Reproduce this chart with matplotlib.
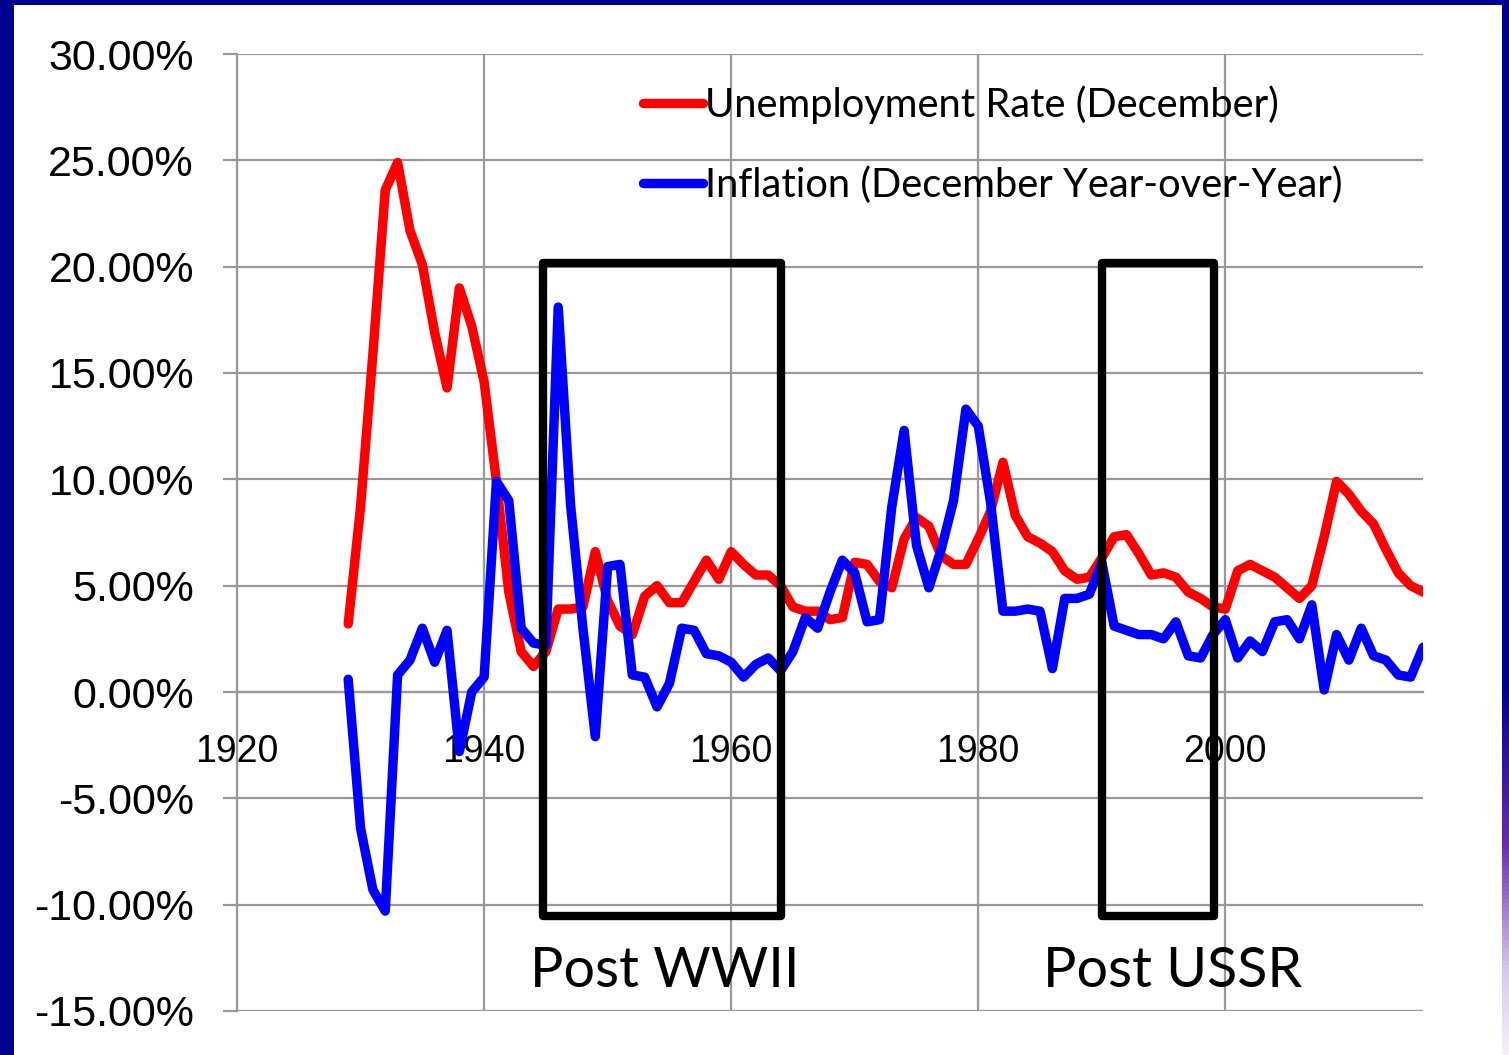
import numpy as np
import matplotlib
matplotlib.use("Agg")
import matplotlib.pyplot as plt
from matplotlib.patches import Rectangle
from matplotlib.colors import LinearSegmentedColormap

# %% data (percent)
years = list(range(1929, 2017))
unemployment = [3.2, 8.7, 15.9, 23.6, 24.9, 21.7, 20.1, 16.9, 14.3, 19.0,
                17.2, 14.6, 9.9, 4.7, 1.9, 1.2, 1.9, 3.9, 3.9, 4.0,
                6.6, 4.3, 3.1, 2.7, 4.5, 5.0, 4.2, 4.2, 5.2, 6.2,
                5.3, 6.6, 6.0, 5.5, 5.5, 5.0, 4.0, 3.8, 3.8, 3.4,
                3.5, 6.1, 6.0, 5.2, 4.9, 7.2, 8.2, 7.8, 6.4, 6.0,
                6.0, 7.2, 8.5, 10.8, 8.3, 7.3, 7.0, 6.6, 5.7, 5.3,
                5.4, 6.3, 7.3, 7.4, 6.5, 5.5, 5.6, 5.4, 4.7, 4.4,
                4.0, 3.9, 5.7, 6.0, 5.7, 5.4, 4.9, 4.4, 5.0, 7.3,
                9.9, 9.3, 8.5, 7.9, 6.7, 5.6, 5.0, 4.7]
inflation = [0.6, -6.4, -9.3, -10.3, 0.8, 1.5, 3.0, 1.4, 2.9, -2.8,
             0.0, 0.7, 9.9, 9.0, 3.0, 2.3, 2.2, 18.1, 8.8, 3.0,
             -2.1, 5.9, 6.0, 0.8, 0.7, -0.7, 0.4, 3.0, 2.9, 1.8,
             1.7, 1.4, 0.7, 1.3, 1.6, 1.0, 1.9, 3.5, 3.0, 4.7,
             6.2, 5.6, 3.3, 3.4, 8.7, 12.3, 6.9, 4.9, 6.7, 9.0,
             13.3, 12.5, 8.9, 3.8, 3.8, 3.9, 3.8, 1.1, 4.4, 4.4,
             4.6, 6.1, 3.1, 2.9, 2.7, 2.7, 2.5, 3.3, 1.7, 1.6,
             2.7, 3.4, 1.6, 2.4, 1.9, 3.3, 3.4, 2.5, 4.1, 0.1,
             2.7, 1.5, 3.0, 1.7, 1.5, 0.8, 0.7, 2.1]

# highlighted periods: (label, start, end, label centre)
periods = [("Post WWII", 1944.8, 1964.05, 1954.6),
           ("Post USSR", 1990.05, 1999.1, 1995.7)]
box_low, box_high = -10.53, 20.17

x_ticks = [1920, 1940, 1960, 1980, 2000]
y_ticks = [-15, -10, -5, 0, 5, 10, 15, 20, 25, 30]

navy = "#000090"
grid_gray = "#999999"

# %% figure
W, H = 1509, 1055
fig = plt.figure(figsize=(W / 100, H / 100), dpi=100, facecolor=navy)

# white slide panel
bg = fig.add_axes([14 / W, 0, (1502 - 14) / W, 1 - 5 / H], zorder=-5)
bg.axis("off")
bg.add_patch(Rectangle((0, 0), 1, 1, transform=bg.transAxes, color="white"))

# right edge gradient strip
strip = fig.add_axes([1502 / W, 0, 7 / W, 1 - 5 / H], zorder=-5)
cmap = LinearSegmentedColormap.from_list(
    "edge", [(0, "#f4f0fa"), (0.08, "#d8c8ee"), (0.2, "#6a2ab0"),
             (0.35, navy), (1, navy)])
strip.imshow(np.linspace(0, 1, 256).reshape(-1, 1), aspect="auto",
             cmap=cmap, origin="lower", extent=[0, 1, 0, 1])
strip.axis("off")

ax = fig.add_axes([237 / W, (1055 - 1011) / H, (1423 - 237) / W, (1011 - 54) / H])
ax.set_facecolor("none")
for side in ["top", "right"]:
    ax.spines[side].set_visible(False)
ax.spines["bottom"].set_position(("data", 0))
for side in ["left", "bottom"]:
    ax.spines[side].set_color(grid_gray)
    ax.spines[side].set_linewidth(1.6)

ax.plot(years, unemployment, color="#ff0000", lw=6.8, solid_capstyle="round",
        solid_joinstyle="round", label="Unemployment Rate (December)", zorder=3)
ax.plot(years, inflation, color="#0000ff", lw=6.8, solid_capstyle="round",
        solid_joinstyle="round", label="Inflation (December Year-over-Year)", zorder=3)

for label, x0, x1, xc in periods:
    ax.add_patch(Rectangle((x0, box_low), x1 - x0, box_high - box_low, fill=False,
                           ec="black", lw=6, joinstyle="round", zorder=4,
                           clip_on=False))
    ax.text(xc, -13.88, label, ha="center", va="baseline",
            fontsize=40, family="Lato", color="black")

ax.set_xlim(1920, 2016)
ax.set_ylim(-15, 30)
ax.set_xticks(x_ticks)
ax.set_yticks(y_ticks)
ax.set_yticklabels([f"{v:.2f}%" for v in y_ticks], family="Liberation Sans", fontsize=31)
ax.set_xticklabels([str(v) for v in x_ticks], family="Liberation Sans", fontsize=27)
ax.grid(True, color=grid_gray, lw=1.6, zorder=1)
ax.set_axisbelow(True)
ax.tick_params(axis="y", length=10, width=1.6, color=grid_gray, pad=21)
ax.tick_params(axis="x", length=0, pad=30)

leg = ax.legend(loc="upper left", bbox_to_anchor=(643 / W, 1 - 85 / H),
                bbox_transform=fig.transFigure, frameon=False, borderpad=0,
                borderaxespad=0, handlelength=1.5, handletextpad=0.05,
                labelspacing=1.08, prop={"family": "Lato", "size": 28.7})

fig.savefig("out.png", dpi=100, facecolor=navy)
